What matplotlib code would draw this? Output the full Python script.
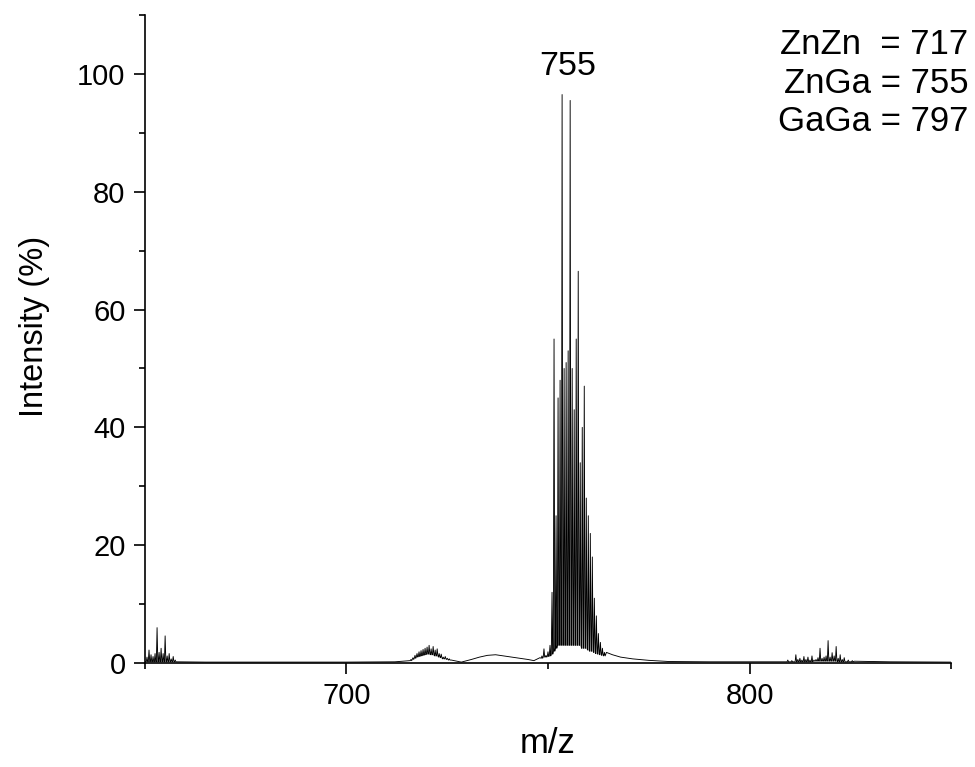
import matplotlib
matplotlib.use("Agg")
import matplotlib.pyplot as plt
from matplotlib.ticker import MultipleLocator

plt.rcParams['font.family'] = ['Liberation Sans', 'DejaVu Sans']

# Smooth continuum (m/z, intensity %)
background_mz = [650, 658, 665, 680, 700, 712, 715.5, 726, 728.5, 731, 733, 735, 737,
                 739, 741, 743, 745, 746.5, 748, 764.5, 766, 768, 771, 775, 780, 790,
                 808, 826, 835, 850]
background_int = [0.3, 0.2, 0.15, 0.15, 0.15, 0.2, 0.4, 0.5, 0.15, 0.6, 1.0, 1.3, 1.4,
                  1.2, 1.0, 0.8, 0.6, 0.4, 0.9, 1.8, 1.4, 1.0, 0.7, 0.45, 0.25, 0.2,
                  0.2, 0.3, 0.2, 0.15]

# Isotope peak clusters: centre m/z, apex intensity, floor between peaks
left_mz = [650.5, 651.0, 651.5, 652.0, 652.5, 653.0, 653.5, 654.0, 654.5, 655.0,
           655.5, 656.0, 656.5, 657.0, 657.5]
left_int = [1.0, 2.2, 1.4, 1.1, 1.6, 6.0, 1.8, 2.5, 1.6, 4.6, 1.2, 1.6, 0.7, 1.1, 0.5]
left_floor = [0.2] * len(left_mz)

znzn_mz = [716.0, 716.5, 717.0, 717.5, 718.0, 718.5, 719.0, 719.5, 720.0, 720.5,
           721.0, 721.5, 722.0, 722.5, 723.0, 723.5, 724.0, 724.5, 725.0, 725.5]
znzn_int = [0.6, 0.9, 1.3, 1.6, 1.9, 2.1, 2.3, 2.5, 2.7, 3.0,
            2.4, 2.8, 2.2, 2.4, 1.6, 1.5, 1.0, 1.1, 0.8, 0.7]
znzn_floor = [0.4, 0.6, 0.8, 1.0, 1.1, 1.2, 1.3, 1.4, 1.5, 1.5,
              1.4, 1.4, 1.2, 1.2, 1.0, 0.9, 0.7, 0.7, 0.6, 0.5]

znga_mz = [748.5, 749.0, 749.5, 750.0, 750.5, 751.0, 751.5, 752.0, 752.5, 753.0,
           753.5, 754.0, 754.5, 755.0, 755.5, 756.0, 756.5, 757.0, 757.5, 758.0,
           758.5, 759.0, 759.5, 760.0, 760.5, 761.0, 761.5, 762.0, 762.5, 763.0,
           763.5, 764.0]
znga_int = [1.2, 2.4, 1.3, 1.9, 3.0, 12.0, 55.0, 25.0, 45.0, 48.0,
            96.5, 50.0, 51.0, 53.0, 95.5, 50.0, 43.0, 55.0, 66.5, 34.0,
            40.0, 47.0, 28.0, 25.0, 22.0, 18.0, 11.0, 8.0, 5.0, 3.5,
            2.5, 1.8]
znga_floor = [0.8, 1.0, 1.0, 1.1, 1.2, 1.5, 2.0, 2.5, 3.0, 3.0,
              3.0, 3.0, 3.0, 3.0, 3.0, 3.0, 3.0, 3.0, 3.0, 3.0,
              2.5, 2.5, 2.5, 2.2, 2.0, 2.0, 1.8, 1.6, 1.5, 1.4,
              1.3, 1.2]

gaga_mz = [809.5, 810.5, 811.5, 812.0, 812.5, 813.0, 813.5, 814.0, 814.5, 815.0,
           815.5, 816.0, 816.5, 817.0, 817.5, 818.0, 818.5, 819.0, 819.5, 820.0,
           820.5, 821.0, 821.5, 822.0, 822.5, 823.0, 823.5, 824.5, 825.5]
gaga_int = [0.5, 0.4, 1.4, 0.6, 0.8, 0.5, 1.1, 0.6, 1.0, 0.5,
            1.2, 0.5, 0.6, 0.9, 2.5, 0.8, 1.0, 1.2, 3.8, 1.0,
            1.75, 1.2, 2.8, 0.8, 1.4, 0.6, 0.9, 0.5, 0.4]
gaga_floor = [0.2] * 11 + [0.3] * 12 + [0.2] * 6

label_755 = "755"
assignments = ["ZnZn  = 717", "ZnGa = 755", "GaGa = 797"]

HALF = 0.18
clusters = [(left_mz, left_int, left_floor),
            (znzn_mz, znzn_int, znzn_floor),
            (znga_mz, znga_int, znga_floor),
            (gaga_mz, gaga_int, gaga_floor)]

# Merge continuum and peak clusters into one trace
points = []
spans = []
for mz, top, floor in clusters:
    spans.append((mz[0] - HALF, mz[-1] + HALF))
    for m, h, f in zip(mz, top, floor):
        points += [(m - HALF, f), (m, h), (m + HALF, f)]
for m, v in zip(background_mz, background_int):
    if not any(lo <= m <= hi for lo, hi in spans):
        points.append((m, v))
points.sort(key=lambda p: p[0])
trace_x = [p[0] for p in points]
trace_y = [p[1] for p in points]

fig = plt.figure(figsize=(9.75, 7.67), dpi=100)
ax = fig.add_axes([0.1487, 0.1356, 0.8267, 0.8448])

ax.plot(trace_x, trace_y, color='black', lw=0.65)

ax.set_xlim(650, 850)
ax.set_ylim(0, 110)
ax.xaxis.set_major_locator(MultipleLocator(100))
ax.xaxis.set_minor_locator(MultipleLocator(50))
ax.yaxis.set_major_locator(MultipleLocator(20))
ax.yaxis.set_minor_locator(MultipleLocator(10))

for side in ('top', 'right'):
    ax.spines[side].set_visible(False)
for side in ('left', 'bottom'):
    ax.spines[side].set_linewidth(1.2)

ax.tick_params(which='major', direction='out', length=8, width=1.2,
               labelsize=21, pad=6)
ax.tick_params(which='minor', direction='out', length=4, width=1.2)

ax.set_xlabel('m/z', fontsize=25, labelpad=12)
ax.set_ylabel('Intensity (%)', fontsize=23.5)
ax.yaxis.set_label_coords(-0.118, 0.52)

ax.text(754.8, 101.2, label_755, fontsize=24.5, ha='center', va='center')

for i, s in enumerate(assignments):
    fig.text(0.993, 0.942 - i * 0.0505, s, fontsize=25, ha='right', va='center')

fig.savefig('out.png', dpi=100)
